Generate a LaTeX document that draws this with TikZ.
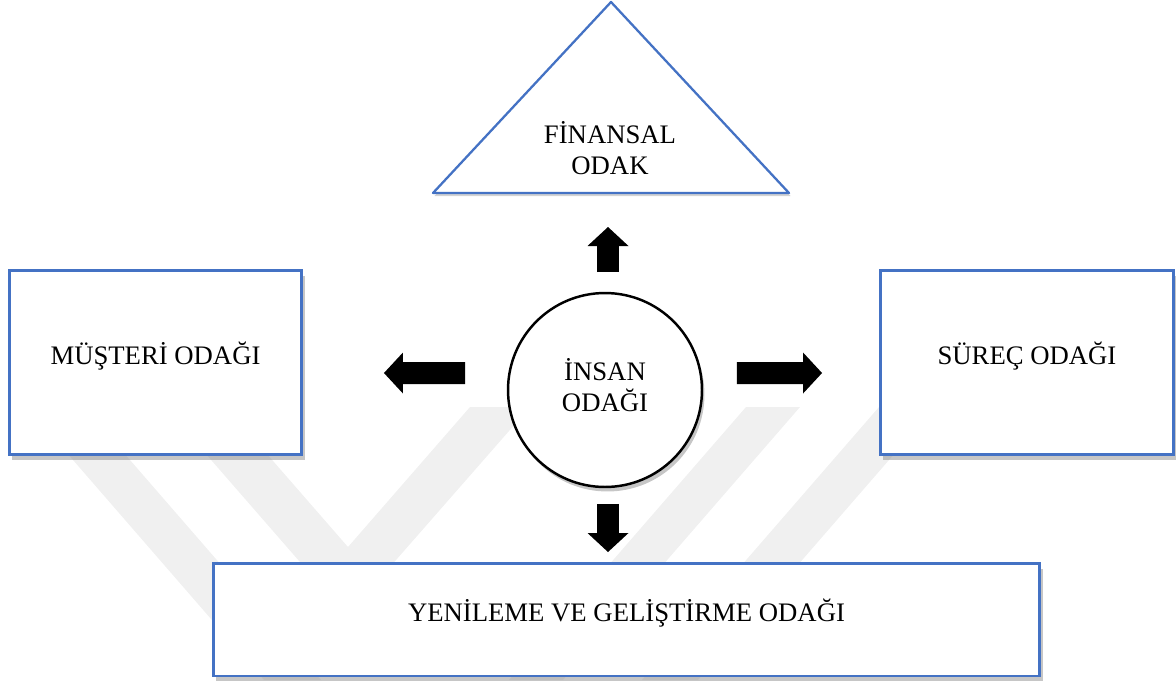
\documentclass[tikz,border=0pt]{standalone}
\usepackage{fontspec}
\setmainfont{Liberation Serif}
\usetikzlibrary{arrows.meta}
\usetikzlibrary{calc}
\usetikzlibrary{shadows}
\definecolor{odakblue}{RGB}{68,114,196}
\definecolor{wmgray}{RGB}{240,240,240}

\begin{document}
\begin{tikzpicture}[
            x = 0.02cm, y = -0.02cm, % pixel grid, y going down
            > = {Triangle[width=0.82cm, length=0.38cm, line width=0pt]}, % block arrow head
            font = \fontsize{15.2}{18}\selectfont
        ]

        \tikzstyle{odak}=[
            draw = odakblue,
            line width = 1.7pt,
            fill = white,
            inner sep = 0pt,
            outer sep = 0pt,
            text height = 0.35cm,
            text depth = 0.28cm,
            drop shadow = {opacity = 0.45, shadow xshift = 0.06cm, shadow yshift = -0.11cm}
        ]
        \tikzstyle{kalin}=[line width = 0.44cm, ->]

        \useasboundingbox (0,0) rectangle (1176,680);

        % watermark in the back
        \fill[wmgray] (27,407) -- (84,407) -- (321,680) -- (264,680) -- cycle;
        \fill[wmgray] (165,407) -- (226,407) -- (348,547) -- (470,407) -- (530,407) -- (347,616) -- cycle;
        \fill[wmgray] (746,407) -- (800,407) -- (563,680) -- (509,680) -- cycle;
        \fill[wmgray] (879,407) -- (935,407) -- (698,680) -- (642,680) -- cycle;

        % financial triangle
        \draw[draw = odakblue, fill = white, line width = 1.3pt, line join = round,
              drop shadow = {opacity = 0.35, shadow xshift = 0.03cm, shadow yshift = -0.06cm}]
            (611,2) coordinate (fintop) -- (789,193) coordinate (finright)
            -- (433,193) coordinate (finleft) -- cycle;
        \coordinate (finbase) at (611,193);
        \node (finansal) at (610,148) [align=center] {FİNANSAL\\ODAK};

        % side boxes
        \node[odak, minimum width=5.86cm, minimum height=3.7cm] (musteri) at (155.5,362.5) {MÜŞTERİ ODAĞI};
        \node[odak, minimum width=5.88cm, minimum height=3.7cm] (surec) at (1027,362.5) {SÜREÇ ODAĞI};

        % bottom box
        \node[odak, minimum width=16.54cm, minimum height=2.26cm] (yenileme) at (626.5,619.5) {YENİLEME VE GELİŞTİRME ODAĞI};

        % centre
        \node[circle, draw, line width=1.4pt, fill=white, minimum size=3.88cm, inner sep=0pt, outer sep=0pt,
              drop shadow = {opacity = 0.45, shadow xshift = 0.05cm, shadow yshift = -0.09cm}]
              (insan) at (605,390) {};
        \node (insantext) at (605,385) [align=center] {İNSAN\\ODAĞI};

        \draw[kalin] ($(insan.north)+(3,-21)$) -- ($(finbase)+(-3,34)$);
        \draw[kalin] ($(insan.west)+(-43,-17)$) -- ($(musteri.east)+(82,10.5)$);
        \draw[kalin] ($(insan.east)+(35,-17)$) -- ($(surec.west)+(-58,10.5)$);
        \draw[kalin] ($(insan.south)+(3,17)$) -- ($(yenileme.north)+(-18.5,-11)$);

\end{tikzpicture}
\end{document}
